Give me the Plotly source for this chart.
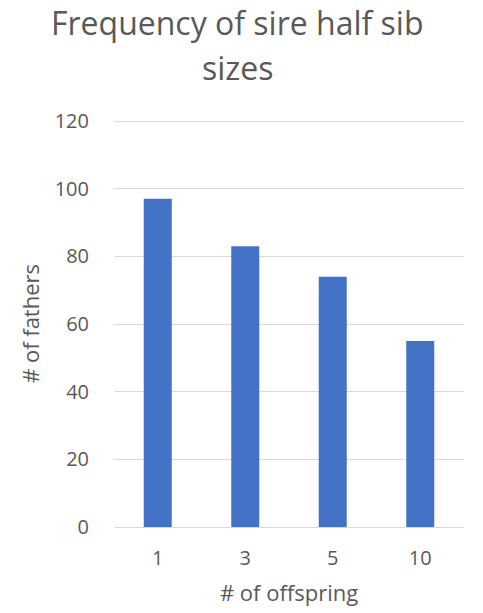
import plotly.graph_objects as go

# Sire half-sib family sizes and how many fathers have each
offspring = ["1", "3", "5", "10"]
fathers = [97, 83, 74, 55]
y_ticks = [0, 20, 40, 60, 80, 100, 120]
title_lines = ["Frequency of sire half sib", "sizes"]

text_color = "#595959"
grid_color = "#d9d9d9"
font_family = "'Open Sans', sans-serif"

W, H = 483, 613
M_L, M_R, M_T, M_B = 114, 19, 120, 86
plot_w = W - M_L - M_R
plot_h = H - M_T - M_B

fig = go.Figure(
    go.Bar(
        x=offspring,
        y=fathers,
        marker=dict(color="#4472C4", line=dict(width=0)),
        width=0.32,
    )
)

fig.update_layout(
    width=W,
    height=H,
    paper_bgcolor="white",
    plot_bgcolor="white",
    margin=dict(l=M_L, r=M_R, t=M_T, b=M_B),
    showlegend=False,
    font=dict(family=font_family, color=text_color, size=20),
)

# Two-line chart title, each line centred over the page
for line, ypx in zip(title_lines, [22, 67]):
    fig.add_annotation(
        text=line,
        xref="paper",
        yref="paper",
        x=(237.5 - M_L) / plot_w,
        y=1 + (M_T - ypx) / plot_h,
        xanchor="center",
        yanchor="middle",
        showarrow=False,
        font=dict(size=32, color=text_color, family=font_family),
    )

fig.update_xaxes(
    type="category",
    automargin=False,
    showgrid=False,
    showline=False,
    zeroline=False,
    ticks="outside",
    ticklen=13,
    tickcolor="rgba(0,0,0,0)",
    tickfont=dict(size=20, color=text_color),
    title=dict(text="# of offspring", font=dict(size=22, color=text_color), standoff=15),
)

fig.update_yaxes(
    range=[0, 120.3],
    automargin=False,
    tickvals=y_ticks,
    showgrid=True,
    gridcolor=grid_color,
    gridwidth=1,
    zeroline=True,
    zerolinecolor=grid_color,
    zerolinewidth=1,
    showline=False,
    ticks="outside",
    ticklen=20,
    tickcolor="rgba(0,0,0,0)",
    tickfont=dict(size=20, color=text_color),
    title=dict(text="# of fathers", font=dict(size=22, color=text_color), standoff=8),
)

fig.write_html("out.html")
